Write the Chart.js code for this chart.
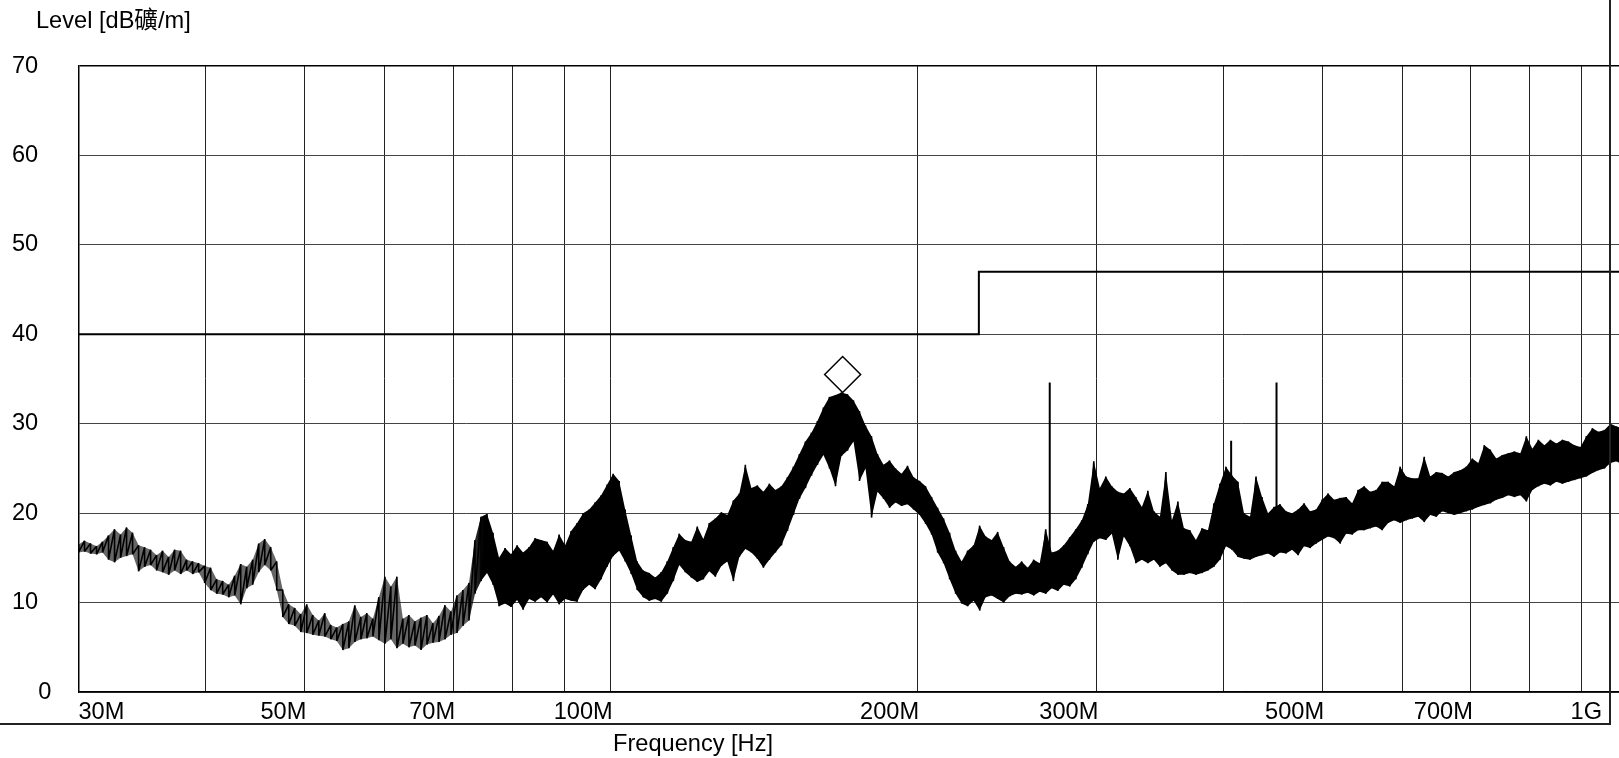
<!DOCTYPE html>
<html>
<head>
<meta charset="utf-8">
<title>Level vs Frequency</title>
<script src="https://cdn.jsdelivr.net/npm/chart.js@4.4.1/dist/chart.umd.min.js"></script>
<style>
    html, body { margin: 0; padding: 0; background: #fff; overflow: hidden; }
    #chart-box { width: 1648px; height: 758px; }
</style>
</head>
<body>
<div id="chart-box">
    <canvas id="emi-chart" width="1648" height="758"></canvas>
</div>
<script>
// sweep range of the receiver
const sweepStart = 30e6;
const sweepStop = 1e9;

// peak reading per display bin (max / min of the trace inside each bin), dB礦/m
const levelMax = [
    16.5, 16.9, 16.6, 16.3, 16.8, 17.5, 18.2, 17.6, 18.4, 17.8,
    16.4, 16.2, 15.9, 15.3, 15.8, 15.1, 15.9, 15.8, 14.8, 14.6,
    14.4, 14.1, 13.9, 12.6, 12.4, 12.0, 13.0, 14.3, 14.0, 14.8,
    16.6, 17.1, 16.2, 14.6, 11.4, 9.8, 9.4, 8.7, 9.8, 8.6,
    8.0, 8.8, 7.5, 7.2, 7.6, 7.9, 9.7, 8.4, 8.8, 8.2,
    10.6, 12.9, 11.8, 12.9, 8.2, 8.6, 7.9, 8.3, 8.6, 7.7,
    8.5, 9.7, 9.0, 10.8, 11.4, 12.2, 17.0, 19.6, 19.9, 17.8,
    15.0, 16.1, 15.4, 16.4, 15.6, 16.2, 17.2, 17.0, 16.8, 15.8,
    17.6, 16.4, 18.0, 18.9, 20.0, 20.4, 21.2, 22.0, 23.2, 24.4,
    23.6, 20.4, 17.5, 14.6, 13.6, 13.3, 12.8, 13.4, 14.6, 16.2,
    17.7, 17.0, 16.8, 18.5, 17.1, 18.9, 19.4, 20.1, 19.8, 21.4,
    22.2, 25.4, 22.8, 23.1, 22.4, 23.3, 22.6, 23.0, 24.0, 25.2,
    26.6, 28.0, 29.0, 30.3, 31.8, 33.0, 33.2, 33.5, 33.3, 32.6,
    31.4, 29.8, 28.6, 26.6, 25.4, 25.9, 25.0, 24.4, 25.3, 24.0,
    23.6, 23.0, 21.8, 20.6, 19.4, 17.8, 15.8, 14.6, 15.8, 16.4,
    18.6, 17.4, 17.0, 17.9, 16.2, 14.6, 14.0, 14.6, 13.9, 14.8,
    14.4, 18.2, 15.6, 15.8, 16.4, 17.3, 18.2, 19.2, 21.0, 25.8,
    22.8, 24.1, 23.0, 22.4, 22.2, 22.8, 21.8, 20.7, 22.5, 20.2,
    19.6, 24.6, 19.2, 21.3, 18.3, 18.1, 17.0, 18.3, 18.1, 21.1,
    23.3, 25.2, 24.2, 23.5, 20.0, 19.6, 24.1, 21.8, 20.0, 20.7,
    21.0, 20.2, 20.0, 20.4, 21.1, 20.2, 20.4, 21.5, 22.2, 21.5,
    21.7, 21.8, 21.1, 22.6, 23.0, 22.4, 22.6, 23.5, 23.5, 23.0,
    25.2, 24.1, 23.9, 23.9, 26.3, 24.1, 24.6, 24.5, 24.1, 24.6,
    24.8, 25.2, 26.1, 25.6, 27.6, 27.1, 26.1, 26.5, 26.7, 26.9,
    26.7, 28.6, 27.2, 28.2, 27.6, 28.2, 27.8, 28.2, 28.0, 27.6,
    27.4, 28.6, 29.5, 29.1, 29.3, 30.0, 29.7, 29.5, 29.8
];
const levelMin = [
    15.6, 15.7, 15.5, 15.4, 15.6, 14.8, 14.5, 15.0, 15.2, 15.4,
    13.5, 14.0, 14.2, 13.6, 13.4, 13.1, 13.6, 13.2, 13.6, 13.2,
    13.4, 12.2, 11.4, 11.0, 10.9, 10.6, 10.8, 9.8, 11.6, 12.0,
    13.4, 14.2, 13.6, 11.4, 8.4, 7.6, 7.4, 6.7, 6.6, 6.4,
    6.3, 6.2, 5.9, 5.7, 4.7, 4.9, 5.6, 5.9, 6.0, 6.2,
    5.8, 5.4, 5.9, 4.9, 5.4, 5.0, 5.2, 4.7, 5.3, 5.5,
    5.6, 5.9, 6.4, 6.6, 7.4, 8.0, 11.0, 12.4, 13.3, 12.0,
    9.6, 9.9, 9.5, 10.3, 9.2, 10.4, 10.1, 10.6, 10.0, 10.9,
    9.8, 10.4, 10.2, 10.1, 11.4, 12.0, 11.5, 12.6, 14.0, 15.2,
    15.8, 14.6, 13.2, 11.4, 10.6, 10.2, 10.4, 10.1, 11.0, 12.4,
    14.2, 13.4, 12.8, 12.3, 12.6, 13.5, 12.9, 14.1, 14.6, 12.4,
    15.1, 16.0, 15.6, 14.9, 13.9, 14.8, 15.6, 16.4, 18.0, 19.8,
    21.6, 22.8, 24.2, 25.4, 26.5, 25.0, 23.0, 26.4, 27.0, 28.0,
    23.6, 25.0, 19.5, 22.4, 21.6, 20.6, 21.2, 20.8, 21.0, 20.4,
    19.8, 18.8, 17.6, 15.6, 14.4, 12.6, 11.0, 9.9, 9.6, 10.2,
    9.1, 10.6, 10.8, 10.4, 10.0, 10.7, 11.0, 10.9, 11.1, 10.8,
    11.2, 11.0, 11.6, 11.3, 12.0, 11.8, 12.6, 13.9, 15.4, 16.8,
    17.2, 17.0, 17.7, 14.8, 17.4, 16.3, 14.4, 14.8, 14.4, 14.8,
    14.0, 14.4, 13.6, 13.1, 13.1, 13.3, 13.1, 13.3, 13.6, 14.0,
    14.8, 16.3, 15.9, 15.1, 14.9, 14.8, 15.1, 15.3, 15.5, 15.1,
    15.6, 15.5, 15.9, 15.3, 16.3, 16.1, 16.6, 17.0, 17.4, 17.2,
    16.6, 17.7, 17.6, 18.1, 18.1, 18.3, 18.5, 18.1, 18.9, 19.2,
    18.9, 19.2, 19.4, 19.6, 19.0, 19.8, 19.6, 20.2, 20.0, 19.8,
    20.0, 20.2, 20.4, 20.7, 20.9, 21.1, 21.5, 21.7, 22.0, 21.8,
    22.0, 21.3, 22.6, 23.0, 23.3, 23.1, 23.5, 23.3, 23.5, 23.7,
    23.9, 24.1, 24.5, 24.8, 25.0, 25.6, 25.8, 25.4, 25.9
];

// narrowband emissions standing out of the noise
const spikeFreqs = [270e6, 407e6, 451e6];
const spikeBase = [13.0, 17.0, 17.0];
const spikeLevels = [34.6, 28.1, 34.6];

// limit line
const limitFreqs = [30e6, 230e6, 230e6, 1e9];
const limitLevels = [40, 40, 47, 47];

// peak marker
const markerFreqs = [169e6];
const markerLevels = [35.5];

// axis grid and labels
const gridFreqs = [30e6, 40e6, 50e6, 60e6, 70e6, 80e6, 90e6, 100e6,
    200e6, 300e6, 400e6, 500e6, 600e6, 700e6, 800e6, 900e6, 1e9];
const freqTickValues = [30e6, 50e6, 70e6, 100e6, 200e6, 300e6, 500e6, 700e6, 1e9];
const freqTickLabels = ['30M', '50M', '70M', '100M', '200M', '300M', '500M', '700M', '1G'];
const yAxisTitle = 'Level [dB礦/m]';
const xAxisTitle = 'Frequency [Hz]';

const fontFamily = '"Liberation Sans", Arial, "Noto Sans CJK SC", sans-serif';
const fontSize = 23.6;

// log spaced sweep points, one per bin
const binCount = levelMax.length;
const sweepFreqs = levelMax.map((v, i) => sweepStart * Math.pow(sweepStop / sweepStart, i / (binCount - 1)));

const maxPoints = sweepFreqs.map((f, i) => ({ x: f, y: levelMax[i] }));
const minPoints = sweepFreqs.map((f, i) => ({ x: f, y: levelMin[i] }));
const zigzagPoints = [];
sweepFreqs.forEach((f, i) => {
    zigzagPoints.push({ x: f, y: levelMax[i] }, { x: f, y: levelMin[i] });
});
const spikePoints = [];
spikeFreqs.forEach((f, i) => {
    spikePoints.push({ x: f, y: spikeBase[i] }, { x: f, y: spikeLevels[i] }, { x: f, y: null });
});

const limitPoints = limitFreqs.map((f, i) => ({ x: f, y: limitLevels[i] }));
const markerPoints = markerFreqs.map((f, i) => ({ x: f, y: markerLevels[i] }));

// the trace is a jagged line below ~72 MHz and a dense black band above
function bandFill(context) {
    const chart = context.chart;
    const area = chart.chartArea;
    const xScale = chart.scales.x;
    if (!area || !xScale) {
        return '#000';
    }
    const width = area.right - area.left;
    const thinEnd = (xScale.getPixelForValue(72e6) - area.left) / width;
    const denseStart = (xScale.getPixelForValue(75e6) - area.left) / width;
    const grad = chart.ctx.createLinearGradient(area.left, 0, area.right, 0);
    grad.addColorStop(0, 'rgba(0,0,0,0.6)');
    grad.addColorStop(thinEnd, 'rgba(0,0,0,0.6)');
    grad.addColorStop(denseStart, '#000');
    grad.addColorStop(1, '#000');
    return grad;
}

// titles, frequency labels and the outer frame
const plotExtras = {
    id: 'plotExtras',
    afterDraw(chart) {
        const ctx = chart.ctx;
        const xScale = chart.scales.x;
        const frameRight = 1610;
        const frameBottom = 724;

        ctx.save();
        ctx.fillStyle = '#000';
        ctx.font = fontSize + 'px ' + fontFamily;
        ctx.textBaseline = 'middle';

        ctx.textAlign = 'left';
        ctx.fillText(yAxisTitle, 36, 21);

        ctx.textAlign = 'center';
        ctx.fillText(xAxisTitle, 693, 744);

        freqTickValues.forEach((v, i) => {
            let px = xScale.getPixelForValue(v);
            if (i === 0) {
                ctx.textAlign = 'left';
            } else {
                ctx.textAlign = 'right';
                px = Math.min(px + 2, frameRight - 8);
            }
            ctx.fillText(freqTickLabels[i], px, 712);
        });

        ctx.strokeStyle = '#222';
        ctx.lineWidth = 2;
        ctx.beginPath();
        ctx.moveTo(0, frameBottom);
        ctx.lineTo(frameRight, frameBottom);
        ctx.lineTo(frameRight, 0);
        ctx.stroke();
        ctx.restore();
    }
};

function traceLine(label, points, extra) {
    return Object.assign({
        label: label,
        data: points,
        borderColor: '#000',
        borderWidth: 1.6,
        borderJoinStyle: 'bevel',
        pointRadius: 0,
        tension: 0,
        fill: false,
        order: 2
    }, extra || {});
}

const ctx = document.getElementById('emi-chart').getContext('2d');
window.emiChart = new Chart(ctx, {
    type: 'line',
    data: {
        datasets: [
            {
                label: 'Marker',
                data: markerPoints,
                showLine: false,
                pointStyle: 'rectRot',
                pointRadius: 18,
                pointBorderWidth: 1.5,
                pointBorderColor: '#000',
                pointBackgroundColor: '#fff',
                order: 0
            },
            {
                label: 'Limit',
                data: limitPoints,
                borderColor: '#000',
                borderWidth: 2,
                pointRadius: 0,
                order: 1
            },
            traceLine('Level max', maxPoints, { borderColor: 'rgba(0,0,0,0)' }),
            traceLine('Level min', minPoints, { borderColor: 'rgba(0,0,0,0)', fill: '-1', backgroundColor: bandFill }),
            traceLine('Level', zigzagPoints),
            traceLine('Narrowband', spikePoints, { borderWidth: 2, spanGaps: false })
        ]
    },
    options: {
        responsive: false,
        animation: false,
        devicePixelRatio: 1,
        events: [],
        layout: { padding: { left: 12, top: 66, right: 13.5, bottom: 0 } },
        plugins: {
            legend: { display: false },
            tooltip: { enabled: false },
            title: { display: false }
        },
        scales: {
            x: {
                type: 'logarithmic',
                min: sweepStart,
                max: sweepStop,
                ticks: { display: false },
                grid: { color: '#222', lineWidth: 1, drawTicks: false },
                border: { color: '#000', width: 1.5 },
                afterBuildTicks: function(scale) {
                    scale.ticks = gridFreqs.map(v => ({ value: v }));
                },
                afterFit: function(scale) { scale.height = 66; }
            },
            y: {
                min: 0,
                max: 70,
                ticks: {
                    stepSize: 10,
                    color: '#000',
                    padding: 0,
                    crossAlign: 'far',
                    font: { family: fontFamily, size: fontSize },
                    callback: function(value) {
                        return value === 0 ? '\u2007\u20070' : String(value);
                    }
                },
                grid: {
                    color: c => (c.tick && c.tick.value === 70 ? '#000' : '#444'),
                    lineWidth: c => (c.tick && c.tick.value === 70 ? 1.5 : 1),
                    drawTicks: false
                },
                border: { color: '#000', width: 1.5 },
                afterFit: function(scale) { scale.width = 66.5; }
            }
        }
    },
    plugins: [plotExtras]
});
</script>
</body>
</html>
